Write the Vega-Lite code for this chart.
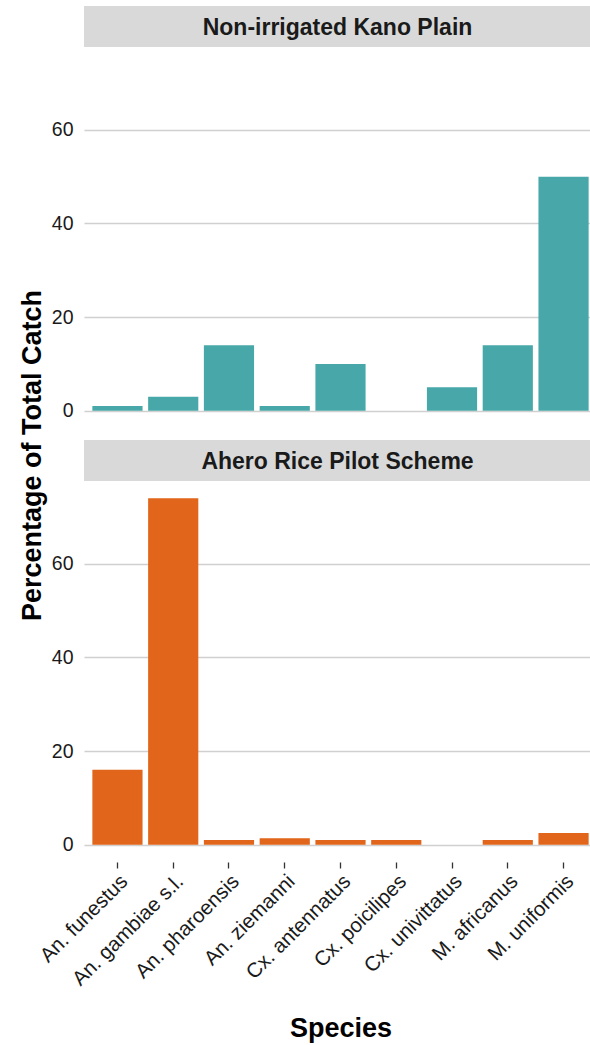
{
  "$schema": "https://vega.github.io/schema/vega-lite/v6.json",
  "background": "white",
  "padding": {"left": 18, "top": 6, "right": 0, "bottom": 2},
  "config": {
    "view": {"stroke": null},
    "font": "Liberation Sans",
    "axis": {
      "labelFont": "Liberation Sans",
      "titleFont": "Liberation Sans"
    }
  },
  "datasets": {
    "catch": [
      {"site": "Non-irrigated Kano Plain", "species": "An. funestus", "pct": 1},
      {"site": "Non-irrigated Kano Plain", "species": "An. gambiae s.l.", "pct": 3},
      {"site": "Non-irrigated Kano Plain", "species": "An. pharoensis", "pct": 14},
      {"site": "Non-irrigated Kano Plain", "species": "An. ziemanni", "pct": 1},
      {"site": "Non-irrigated Kano Plain", "species": "Cx. antennatus", "pct": 10},
      {"site": "Non-irrigated Kano Plain", "species": "Cx. poicilipes", "pct": 0},
      {"site": "Non-irrigated Kano Plain", "species": "Cx. univittatus", "pct": 5},
      {"site": "Non-irrigated Kano Plain", "species": "M. africanus", "pct": 14},
      {"site": "Non-irrigated Kano Plain", "species": "M. uniformis", "pct": 50},
      {"site": "Ahero Rice Pilot Scheme", "species": "An. funestus", "pct": 16},
      {"site": "Ahero Rice Pilot Scheme", "species": "An. gambiae s.l.", "pct": 74},
      {"site": "Ahero Rice Pilot Scheme", "species": "An. pharoensis", "pct": 1},
      {"site": "Ahero Rice Pilot Scheme", "species": "An. ziemanni", "pct": 1.4},
      {"site": "Ahero Rice Pilot Scheme", "species": "Cx. antennatus", "pct": 1},
      {"site": "Ahero Rice Pilot Scheme", "species": "Cx. poicilipes", "pct": 1},
      {"site": "Ahero Rice Pilot Scheme", "species": "Cx. univittatus", "pct": 0},
      {"site": "Ahero Rice Pilot Scheme", "species": "M. africanus", "pct": 1},
      {"site": "Ahero Rice Pilot Scheme", "species": "M. uniformis", "pct": 2.5}
    ],
    "sites": [
      {"site": "Non-irrigated Kano Plain"},
      {"site": "Ahero Rice Pilot Scheme"}
    ]
  },
  "spacing": 0,
  "bounds": "flush",
  "vconcat": [
    {
      "width": 507,
      "height": 41,
      "view": {"fill": "#d9d9d9", "stroke": null},
      "data": {"name": "sites"},
      "transform": [{"filter": "datum.site === 'Non-irrigated Kano Plain'"}],
      "mark": {"type": "text", "fontSize": 23, "fontWeight": "bold", "color": "#1a1a1a", "baseline": "middle", "align": "center", "dy": 1},
      "encoding": {"text": {"field": "site", "type": "nominal"}}
    },
    {
      "width": 507,
      "height": 393,
      "data": {"name": "catch"},
      "transform": [{"filter": "datum.site === 'Non-irrigated Kano Plain'"}],
      "mark": {"type": "bar"},
      "encoding": {
        "x": {
          "field": "species",
          "type": "nominal",
          "sort": ["An. funestus", "An. gambiae s.l.", "An. pharoensis", "An. ziemanni", "Cx. antennatus", "Cx. poicilipes", "Cx. univittatus", "M. africanus", "M. uniformis"],
          "scale": {"range": [0, 513], "paddingInner": 0.1, "paddingOuter": 0.15},
          "axis": null
        },
        "y": {
          "field": "pct",
          "type": "quantitative",
          "scale": {"domain": [-3.7, 77.7], "range": [381, 0], "nice": false, "zero": false},
          "axis": {
            "values": [0, 20, 40, 60],
            "grid": true,
            "gridColor": "#d0d0d0",
            "gridWidth": 1.4,
            "domain": false,
            "ticks": false,
            "labelFontSize": 19.5,
            "labelColor": "#1a1a1a",
            "labelPadding": 11,
            "title": "Percentage of Total Catch",
            "titleFontSize": 27,
            "titleFontWeight": "bold",
            "titleColor": "#000000",
            "titlePadding": 5,
            "titleY": 408
          }
        },
        "color": {
          "field": "site",
          "type": "nominal",
          "scale": {"domain": ["Non-irrigated Kano Plain", "Ahero Rice Pilot Scheme"], "range": ["#48a8a9", "#e1651a"]},
          "legend": null
        }
      }
    },
    {
      "width": 507,
      "height": 41,
      "view": {"fill": "#d9d9d9", "stroke": null},
      "data": {"name": "sites"},
      "transform": [{"filter": "datum.site === 'Ahero Rice Pilot Scheme'"}],
      "mark": {"type": "text", "fontSize": 23, "fontWeight": "bold", "color": "#1a1a1a", "baseline": "middle", "align": "center", "dy": 1},
      "encoding": {"text": {"field": "site", "type": "nominal"}}
    },
    {
      "width": 507,
      "height": 381,
      "data": {"name": "catch"},
      "transform": [{"filter": "datum.site === 'Ahero Rice Pilot Scheme'"}],
      "mark": {"type": "bar"},
      "encoding": {
        "x": {
          "field": "species",
          "type": "nominal",
          "sort": ["An. funestus", "An. gambiae s.l.", "An. pharoensis", "An. ziemanni", "Cx. antennatus", "Cx. poicilipes", "Cx. univittatus", "M. africanus", "M. uniformis"],
          "scale": {"range": [0, 513], "paddingInner": 0.1, "paddingOuter": 0.15},
          "axis": {
            "title": "Species",
            "titleFontSize": 27,
            "titleFontWeight": "bold",
            "titleColor": "#000000",
            "titlePadding": 26,
            "labelAngle": -45,
            "labelAlign": "right",
            "labelBaseline": "top",
            "labelFontSize": 20.5,
            "labelColor": "#1a1a1a",
            "labelPadding": 3,
            "ticks": true,
            "tickSize": 6,
            "tickWidth": 1.3,
            "tickColor": "#333333",
            "domain": false,
            "grid": false
          }
        },
        "y": {
          "field": "pct",
          "type": "quantitative",
          "scale": {"domain": [-3.7, 77.7], "nice": false, "zero": false},
          "axis": {
            "values": [0, 20, 40, 60],
            "grid": true,
            "gridColor": "#d0d0d0",
            "gridWidth": 1.4,
            "domain": false,
            "ticks": false,
            "labelFontSize": 19.5,
            "labelColor": "#1a1a1a",
            "labelPadding": 11,
            "title": null
          }
        },
        "color": {
          "field": "site",
          "type": "nominal",
          "scale": {"domain": ["Non-irrigated Kano Plain", "Ahero Rice Pilot Scheme"], "range": ["#48a8a9", "#e1651a"]},
          "legend": null
        }
      }
    }
  ]
}
